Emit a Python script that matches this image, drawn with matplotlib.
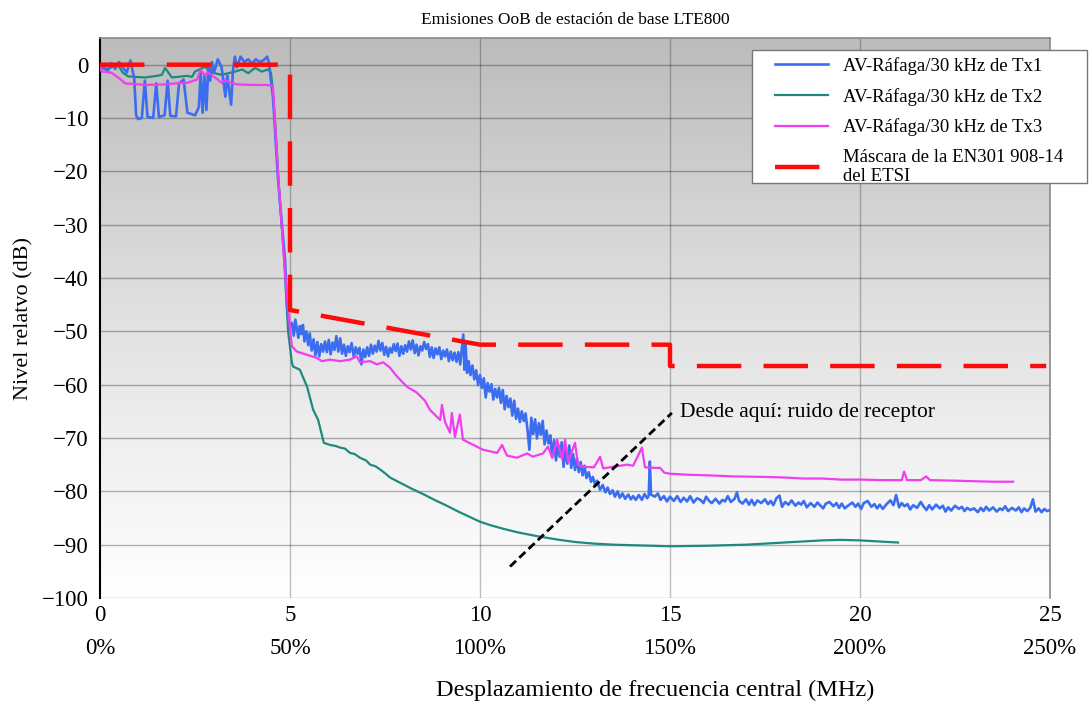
import numpy as np
import matplotlib
matplotlib.use("Agg")
import matplotlib.pyplot as plt
from matplotlib.colors import LinearSegmentedColormap
from matplotlib.patches import Rectangle

plt.rcParams['font.family'] = ['Liberation Serif', 'DejaVu Serif']

# Tx1 (blue): offset in MHz, relative level in dB
tx1_x = [0.00, 0.10, 0.20, 0.30, 0.40, 0.50, 0.60, 0.70, 0.80, 0.90, 0.95, 1.00, 1.10, 1.18, 1.25,
         1.40, 1.48, 1.55, 1.70, 1.78, 1.85, 2.00, 2.08, 2.20, 2.30, 2.50, 2.60, 2.65, 2.70, 2.75,
         2.80, 2.85, 2.90, 2.95, 3.00, 3.10, 3.20, 3.30, 3.35, 3.45, 3.50, 3.55, 3.60, 3.70, 3.80,
         3.90, 4.00, 4.10, 4.20, 4.30, 4.40, 4.45, 4.50, 4.55, 4.60, 4.68, 4.75, 4.87, 4.92, 4.97,
         5.05, 5.10, 5.14, 5.18, 5.22, 5.26, 5.30, 5.34, 5.38, 5.43, 5.48, 5.52, 5.57, 5.62, 5.67,
         5.72, 5.77, 5.82, 5.87, 5.92, 5.97, 6.02, 6.07, 6.12, 6.17, 6.22, 6.27, 6.32, 6.37, 6.42,
         6.47, 6.52, 6.57, 6.62, 6.68, 6.73, 6.78, 6.83, 6.88, 6.93, 6.98, 7.03, 7.08, 7.13, 7.18,
         7.23, 7.28, 7.33, 7.38, 7.43, 7.48, 7.53, 7.58, 7.63, 7.68, 7.73, 7.78, 7.83, 7.88, 7.93,
         7.98, 8.03, 8.08, 8.13, 8.18, 8.23, 8.28, 8.33, 8.38, 8.43, 8.48, 8.53, 8.58, 8.63, 8.68,
         8.73, 8.78, 8.83, 8.88, 8.93, 8.98, 9.03, 9.08, 9.13, 9.18, 9.23, 9.28, 9.33, 9.38, 9.43,
         9.48, 9.53, 9.56, 9.59, 9.62, 9.66, 9.70, 9.75, 9.80, 9.85, 9.90, 9.95, 10.00, 10.05, 10.10,
         10.15, 10.20, 10.25, 10.30, 10.35, 10.40, 10.45, 10.50, 10.55, 10.60, 10.65, 10.70, 10.75,
         10.80, 10.85, 10.90, 10.95, 11.00, 11.05, 11.10, 11.15, 11.20, 11.25, 11.30, 11.35, 11.40,
         11.45, 11.50, 11.55, 11.60, 11.65, 11.70, 11.75, 11.80, 11.85, 11.90, 11.95, 12.00, 12.05,
         12.10, 12.15, 12.20, 12.25, 12.30, 12.35, 12.40, 12.45, 12.50, 12.55, 12.60, 12.65, 12.70,
         12.75, 12.80, 12.86, 12.92, 12.97, 13.03, 13.08, 13.16, 13.23, 13.30, 13.36, 13.42, 13.49,
         13.55, 13.62, 13.68, 13.75, 13.82, 13.90, 13.97, 14.03, 14.10, 14.18, 14.26, 14.33, 14.40,
         14.44, 14.47, 14.50, 14.60, 14.68, 14.75, 14.84, 14.92, 15.00, 15.10, 15.19, 15.28, 15.36,
         15.45, 15.53, 15.62, 15.71, 15.80, 15.88, 15.95, 16.03, 16.10, 16.20, 16.30, 16.38, 16.45,
         16.52, 16.60, 16.70, 16.76, 16.82, 16.91, 17.00, 17.08, 17.15, 17.22, 17.30, 17.40, 17.50,
         17.58, 17.65, 17.72, 17.80, 17.88, 17.95, 18.03, 18.12, 18.20, 18.30, 18.38, 18.45, 18.52,
         18.60, 18.70, 18.80, 18.88, 18.95, 19.03, 19.10, 19.20, 19.30, 19.38, 19.45, 19.52, 19.60,
         19.70, 19.80, 19.88, 19.95, 20.03, 20.10, 20.20, 20.30, 20.38, 20.45, 20.52, 20.60, 20.70,
         20.80, 20.88, 20.95, 21.03, 21.10, 21.17, 21.25, 21.32, 21.40, 21.50, 21.60, 21.68, 21.75,
         21.82, 21.90, 22.00, 22.10, 22.18, 22.25, 22.32, 22.40, 22.50, 22.60, 22.68, 22.75, 22.82,
         22.90, 23.00, 23.10, 23.18, 23.25, 23.32, 23.40, 23.50, 23.60, 23.68, 23.75, 23.82, 23.90,
         24.00, 24.10, 24.18, 24.25, 24.32, 24.40, 24.48, 24.55, 24.62, 24.70, 24.78, 24.85, 24.92,
         25.00]
tx1_y = [-1.0, -0.5, -1.2, 0.3, -0.8, 0.5, -0.5, -1.5, 0.8, -2.5, -9.5, -10.2, -10.0, -3.0, -9.8,
         -10.0, -3.5, -9.8, -9.5, -3.0, -9.6, -9.7, -3.5, -2.8, -9.0, -9.5, -8.0, -1.5, -9.0, -2.0,
         -8.5, -0.5, -3.0, 0.5, -1.5, 1.0, -0.5, -6.0, -2.0, -7.5, -1.0, 1.5, -0.5, 1.5, 0.5,
         1.0, 0.2, 1.0, 0.5, 0.8, 1.5, 0.2, -3.0, -6.0, -11.6, -21.0, -27.0, -36.6, -45.0, -49.0,
         -48.4, -50.8, -47.8, -49.5, -51.2, -49.0, -50.5, -48.8, -51.9, -50.0, -52.6, -50.4, -53.6, -51.5, -54.5,
         -52.0, -54.7, -52.4, -53.8, -51.9, -53.9, -51.6, -54.3, -52.1, -53.5, -50.9, -53.8, -51.3, -54.2, -52.5,
         -54.6, -52.8, -53.9, -52.2, -54.8, -53.0, -54.2, -53.1, -56.2, -53.4, -54.8, -53.0, -54.6, -52.5, -54.2,
         -52.7, -53.8, -51.8, -53.6, -52.2, -54.4, -52.9, -54.7, -53.1, -54.0, -52.4, -53.7, -52.3, -54.6, -52.8,
         -54.2, -52.6, -53.8, -51.9, -53.4, -51.7, -54.1, -52.5, -54.5, -52.8, -53.6, -52.0, -53.3, -52.4, -54.8,
         -53.0, -55.0, -53.2, -54.3, -53.0, -55.2, -53.6, -54.7, -53.4, -55.6, -53.8, -55.4, -54.0, -55.7, -53.9,
         -56.2, -52.8, -50.6, -57.2, -52.5, -57.8, -55.6, -58.2, -56.4, -59.0, -57.3, -60.1, -58.2, -60.6, -58.8,
         -62.4, -59.7, -61.3, -59.9, -62.8, -60.8, -62.4, -60.6, -63.4, -61.0, -64.6, -62.1, -64.2,
         -62.6, -65.8, -63.0, -66.4, -64.5, -67.0, -65.0, -66.8, -65.4, -68.5, -72.2, -66.2, -69.3,
         -66.5, -70.1, -67.2, -69.4, -66.8, -71.2, -68.6, -71.0, -69.5, -73.6, -70.4, -74.2, -71.2,
         -73.5, -70.8, -75.4, -72.0, -74.8, -71.4, -75.6, -73.0, -76.0, -73.8, -76.4, -74.5, -77.0,
         -75.2, -77.5, -76.4, -78.2, -77.3, -78.8, -78.0, -79.7, -78.8, -80.2, -79.3, -80.5, -79.8,
         -81.0, -80.0, -81.2, -80.4, -81.4, -80.6, -81.5, -80.9, -81.6, -80.7, -81.6, -80.5, -81.3,
         -80.8, -74.4, -80.6, -81.0, -80.4, -81.6, -80.9, -81.9, -81.0, -81.8, -80.9, -82.0, -81.2,
         -81.9, -80.9, -82.1, -81.3, -81.6, -82.2, -81.0, -81.8, -82.2, -81.4, -82.3, -81.6, -81.9,
         -80.9, -82.0, -81.4, -80.2, -81.8, -82.3, -81.5, -82.5, -81.6, -82.6, -81.7, -82.2, -81.5,
         -82.4, -81.8, -82.6, -81.3, -80.8, -82.9, -82.0, -82.5, -81.7, -82.7, -82.1, -82.5, -81.8,
         -83.0, -82.2, -82.9, -82.1, -82.6, -83.2, -82.3, -82.0, -82.8, -82.2, -83.1, -82.3, -83.2,
         -82.6, -82.1, -82.9, -82.3, -83.3, -82.2, -81.8, -82.9, -82.4, -83.2, -82.5, -83.3, -82.4,
         -81.7, -82.6, -80.7, -83.0, -82.2, -82.8, -82.4, -83.4, -82.6, -83.1, -82.0, -82.9, -83.5,
         -82.6, -83.4, -82.5, -83.2, -82.7, -83.8, -83.0, -83.6, -82.7, -83.3, -82.9, -83.7, -83.1,
         -83.5, -83.2, -83.9, -83.1, -83.7, -82.9, -83.6, -83.0, -83.8, -83.2, -83.5, -82.8, -83.7,
         -83.1, -83.6, -83.0, -83.9, -83.2, -83.7, -83.1, -81.5, -83.8, -83.2, -83.9, -83.3, -83.7,
         -83.5]

# Tx2 (teal)
tx2_x = [0.00, 0.20, 0.47, 0.60, 0.74, 1.18, 1.50, 1.63, 1.71, 1.89, 2.30, 2.42, 2.50, 2.76, 2.95,
         3.20, 3.55, 3.74, 3.90, 4.08, 4.26, 4.42, 4.50, 4.55, 4.62, 4.70, 4.85, 4.95, 5.05, 5.08,
         5.26, 5.45, 5.61, 5.74, 5.89, 6.05, 6.20, 6.32, 6.45, 6.58, 6.70, 6.84, 7.00, 7.11, 7.25,
         7.37, 7.50, 7.63, 7.90, 8.20, 8.50, 8.80, 9.10, 9.40, 9.70, 10.00, 10.30, 10.60, 11.00,
         11.50, 12.00, 12.50, 13.00, 13.50, 14.00, 14.50, 15.00, 16.00, 17.00, 17.50, 18.00, 18.50,
         19.00, 19.50, 20.00, 20.50, 21.00]
tx2_y = [-0.6, -0.8, 0.0, -1.5, -2.2, -2.4, -2.1, -1.9, -0.6, -2.4, -2.1, -2.3, -1.3, -0.4, -1.5,
         -1.9, -1.3, -0.9, -1.6, -0.6, -1.3, -0.9, -1.5, -5.0, -12.0, -22.0, -37.0, -50.0, -55.9, -56.6,
         -57.2, -60.4, -64.7, -66.6, -70.9, -71.3, -71.5, -71.8, -72.0, -72.8, -73.0, -73.7, -74.2, -75.0, -75.3,
         -75.9, -76.6, -77.4, -78.4, -79.5, -80.5, -81.6, -82.6, -83.7, -84.7, -85.7, -86.4, -87.0, -87.7,
         -88.4, -89.0, -89.5, -89.8, -90.0, -90.1, -90.2, -90.3, -90.2, -90.0, -89.8, -89.6, -89.4,
         -89.2, -89.1, -89.2, -89.4, -89.6]

# Tx3 (magenta)
tx3_x = [0.00, 0.05, 0.30, 0.55, 0.66, 0.85, 1.20, 1.70, 2.00, 2.30, 2.55, 2.65, 2.75, 2.85, 3.10,
         3.20, 3.30, 3.37, 3.60, 4.00, 4.40, 4.55, 4.60, 4.70, 4.85, 4.95, 5.05, 5.18, 5.45, 5.71,
         5.84, 6.05, 6.32, 6.58, 6.76, 6.84, 7.11, 7.29, 7.45, 7.63, 7.82, 8.08, 8.34, 8.55, 8.68,
         8.95, 9.00, 9.08, 9.21, 9.26, 9.34, 9.47, 9.55, 9.74, 10.08, 10.45, 10.58, 10.71, 10.97,
         11.24, 11.39, 11.66, 11.79, 11.90, 12.03, 12.16, 12.24, 12.32, 12.50, 12.58, 12.71, 13.00,
         13.16, 13.24, 13.50, 13.87, 14.03, 14.26, 14.34, 14.60, 14.74, 14.85, 15.00, 15.50, 16.00,
         16.66, 17.50, 18.00, 18.50, 19.00, 19.50, 20.00, 20.60, 21.10, 21.16, 21.24, 21.60, 21.74,
         21.84, 22.50, 23.00, 23.50, 24.03]
tx3_y = [-0.5, -1.3, -1.5, -2.8, -3.5, -3.6, -3.8, -3.7, -3.5, -3.4, -2.8, -1.0, -1.9, -1.5, -2.8,
         -3.4, -2.8, -3.2, -3.7, -3.8, -3.8, -4.1, -10.0, -22.0, -37.0, -46.0, -52.8, -53.8, -54.4, -55.0,
         -55.6, -55.3, -55.6, -55.3, -54.7, -55.8, -55.6, -56.2, -55.8, -56.8, -58.5, -60.4, -61.5, -63.0, -64.7,
         -66.6, -63.8, -67.0, -69.0, -65.3, -69.8, -65.6, -70.3, -71.0, -72.2, -72.8, -71.3, -73.3, -73.7,
         -72.9, -73.5, -72.9, -71.6, -73.7, -70.3, -74.0, -70.3, -74.5, -70.9, -75.0, -75.4, -75.5,
         -73.5, -75.7, -75.4, -75.0, -75.2, -71.8, -75.5, -75.6, -75.6, -76.5, -76.7, -76.9, -77.0,
         -77.2, -77.3, -77.4, -77.6, -77.6, -77.8, -77.8, -77.9, -77.9, -76.3, -77.9, -77.9, -77.2,
         -77.9, -78.0, -78.1, -78.2, -78.2]

# ETSI EN301 908-14 mask
mask_x = [0, 5, 5, 10, 15, 15, 24.9]
mask_y = [0, 0, -46, -52.5, -52.5, -56.5, -56.5]

# receiver noise marker line
noise_x = [10.79, 15.05]
noise_y = [-94.1, -65.3]

xticks = [0, 5, 10, 15, 20, 25]
pct_labels = ['0%', '50%', '100%', '150%', '200%', '250%']
yticks = list(range(0, -101, -10))

W, H = 1091, 706
fig = plt.figure(figsize=(W / 100, H / 100), dpi=100)
ax = fig.add_axes([100 / W, 1 - 598 / H, 950 / W, 560 / H])

# vertical grey-to-white background, lightening a little faster than linear
grad = np.linspace(0, 1, 256).reshape(-1, 1)
bg = LinearSegmentedColormap.from_list(
    'bg', [(0.0, '#bcbcbc'), (0.4, '#dadada'), (0.7, '#eeeeee'), (1.0, '#ffffff')])
ax.imshow(grad, extent=[0, 25, -100, 5], origin='upper', aspect='auto', cmap=bg, zorder=0)

ax.set_xlim(0, 25)
ax.set_ylim(-100, 5)

for v in yticks:
    ax.axhline(v, color='black', alpha=0.3, lw=1.0, zorder=1)
for v in xticks[1:-1]:
    ax.axvline(v, color='black', alpha=0.25, lw=1.0, zorder=1)

ax.plot(tx1_x, tx1_y, color='#3a6df0', lw=1.9, zorder=3, label='AV-Ráfaga/30 kHz de Tx1')
ax.plot(tx2_x, tx2_y, color='#1f8a7c', lw=1.6, zorder=2, label='AV-Ráfaga/30 kHz de Tx2')
ax.plot(tx3_x, tx3_y, color='#f23cf0', lw=1.6, zorder=3, label='AV-Ráfaga/30 kHz de Tx3')
ax.plot(mask_x, mask_y, color='#ff0a0a', lw=3.2, dashes=(10, 5), zorder=4,
        label='Máscara de la EN301 908-14\ndel ETSI')
ax.plot(noise_x, noise_y, color='black', lw=2.0, dashes=(3, 1.6), zorder=5)
ax.text(15.25, -65.3, 'Desde aquí: ruido de receptor', fontsize=15.5, va='center', ha='left')

ax.set_xticks(xticks)
ax.set_xticklabels([f'{v}\n{p}' for v, p in zip(xticks, pct_labels)], linespacing=1.75)
ax.set_yticks(yticks)
ax.set_yticklabels([str(v).replace('-', '\u2212') for v in yticks])
ax.tick_params(axis='both', length=0, labelsize=16.5)
ax.tick_params(axis='x', pad=5)
ax.tick_params(axis='y', pad=8)

ax.spines['bottom'].set_visible(False)
ax.spines['left'].set_color('black')
ax.spines['left'].set_linewidth(1.5)
for s in ('top', 'right'):
    ax.spines[s].set_color('#8a8a8a')
    ax.spines[s].set_linewidth(1.2)

ax.set_title('Emisiones OoB de estación de base LTE800', fontsize=12.5, pad=10)
ax.set_xlabel('Desplazamiento de frecuencia central (MHz)', fontsize=17.5)
ax.xaxis.set_label_coords((655 - 100) / 950, -(680 - 598) / 560)
ax.set_ylabel('Nivel relatvo (dB)', fontsize=16)
ax.yaxis.set_label_coords(-(100 - 33) / 950, 0.5)

# legend frame drawn separately so the box can extend past the axes
fig.add_artist(Rectangle((752 / W, 1 - 183 / H), 335 / W, 133 / H, transform=fig.transFigure,
                         facecolor='white', edgecolor='#777777', lw=1.0, zorder=4))
leg = fig.legend(loc='upper left', bbox_to_anchor=(775 / W, 1 - 57 / H), borderaxespad=0,
                 borderpad=0, fontsize=13.5, frameon=False, handlelength=2.83,
                 handletextpad=0.8, labelspacing=0.68)
leg.set_zorder(5)

fig.savefig('out.png', dpi=100)
